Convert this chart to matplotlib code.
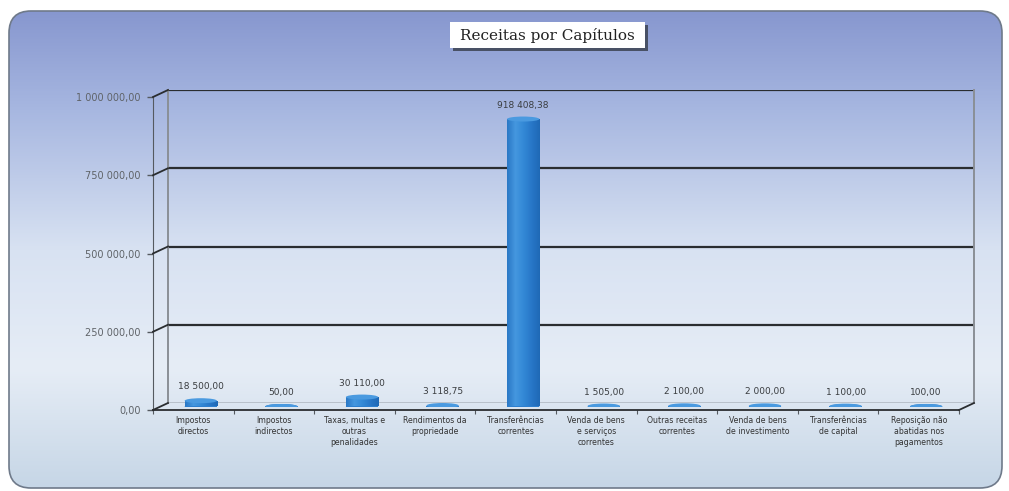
import numpy as np
import matplotlib.pyplot as plt
from matplotlib.patches import FancyBboxPatch, Ellipse, Rectangle
from matplotlib.lines import Line2D
from matplotlib.colors import LinearSegmentedColormap

# dados (Receitas por Capítulos)
categorias = [
    "Impostos\ndirectos",
    "Impostos\nindirectos",
    "Taxas, multas e\noutras\npenalidades",
    "Rendimentos da\npropriedade",
    "Transferências\ncorrentes",
    "Venda de bens\ne serviços\ncorrentes",
    "Outras receitas\ncorrentes",
    "Venda de bens\nde investimento",
    "Transferências\nde capital",
    "Reposição não\nabatidas nos\npagamentos",
]
valores = [18500.00, 50.00, 30110.00, 3118.75, 918408.38,
           1505.00, 2100.00, 2000.00, 1100.00, 100.00]
yticks = [0, 250000, 500000, 750000, 1000000]
titulo = "Receitas por Capítulos"


def fmt(v):
    s = f"{v:,.2f}"
    return s.replace(",", " ").replace(".", ",")


W, H = 1009, 491
fig = plt.figure(figsize=(W / 100, H / 100), dpi=100)
fig.patch.set_facecolor("white")


def px(x0, y0, x1, y1):
    return [x0 / W, 1 - y1 / H, (x1 - x0) / W, (y1 - y0) / H]


# fundo com gradiente e cantos arredondados
bg = fig.add_axes([0, 0, 1, 1])
bg.set_xlim(0, W)
bg.set_ylim(H, 0)
bg.axis("off")
cmap_bg = LinearSegmentedColormap.from_list(
    "bg", [(0, "#8797cf"), (0.2, "#a6b6e0"), (0.5, "#d8e2f2"),
           (0.75, "#e6edf6"), (1, "#c6d6e6")])
panel = FancyBboxPatch((9, 11), 993, 477, boxstyle="round,pad=0,rounding_size=22",
                       fc="none", ec="#6f7a8a", lw=1.2, zorder=2)
bg.add_patch(panel)
grad = np.linspace(0, 1, 256).reshape(-1, 1)
im = bg.imshow(grad, extent=(9, 1002, 488, 11), cmap=cmap_bg, aspect="auto", zorder=1)
im.set_clip_path(panel)
bg.set_xlim(0, W)
bg.set_ylim(H, 0)

# titulo com sombra
bg.add_patch(Rectangle((453, 25), 195, 26, fc="#3c4352", ec="none", alpha=0.85, zorder=3))
bg.add_patch(Rectangle((450, 22), 195, 26, fc="white", ec="none", zorder=4))
bg.text(547, 35.5, titulo, ha="center", va="center", fontsize=11,
        family="DejaVu Serif", color="#222222", zorder=5)

# parede de fundo
ax = fig.add_axes(px(168, 90, 974, 403))
ax.set_facecolor("none")
ax.set_xlim(-0.5, 9.5)
ax.set_ylim(0, 1000000)
ax.set_xticks([])
ax.set_yticks([])
for s in ["top", "bottom"]:
    ax.spines[s].set_visible(False)
for s in ["left", "right"]:
    ax.spines[s].set_color("#8a8f96")
    ax.spines[s].set_linewidth(1.4)
for v in yticks:
    ax.axhline(v, color="#2a2d30", lw=1.6 if v > 0 else 1.0)

# eixo da frente
axf = fig.add_axes(px(153, 97, 959, 410))
axf.set_facecolor("none")
axf.set_xlim(-0.5, 9.5)
axf.set_ylim(0, 1000000)
for s in ["top", "right"]:
    axf.spines[s].set_visible(False)
axf.spines["left"].set_color("#555a60")
axf.spines["bottom"].set_color("#2a2d30")
axf.spines["bottom"].set_linewidth(1.3)
axf.set_yticks(yticks, [fmt(v) for v in yticks])
axf.tick_params(axis="y", length=4, width=1, color="#555a60", pad=5,
                labelsize=7, labelcolor="#5f6368")
axf.set_xticks(range(len(categorias)), categorias)
axf.tick_params(axis="x", length=0, pad=4, labelsize=5.6, labelcolor="#333333")
for lab in axf.get_xticklabels():
    lab.set_linespacing(1.35)
    lab.set_va("top")
axf.set_xticks(np.arange(-0.5, 10, 1), minor=True)
axf.tick_params(axis="x", which="minor", length=3, width=0.8, color="#555a60")

# ligacoes 3D entre frente e fundo
inv = fig.transFigure.inverted()
pares = [(-0.5, v) for v in yticks] + [(9.5, 0)]
for xv, yv in pares:
    p1 = inv.transform(axf.transData.transform((xv, yv)))
    p2 = inv.transform(ax.transData.transform((xv, yv)))
    fig.add_artist(Line2D([p1[0], p2[0]], [p1[1], p2[1]], transform=fig.transFigure,
                          color="#2a2d30", lw=1.3))

# barras (cilindros) a meia profundidade
axm = fig.add_axes(px(160.5, 93.5, 966.5, 406.5))
axm.set_facecolor("none")
axm.axis("off")
x = np.arange(len(valores))
larg = 0.4
barras = axm.bar(x, valores, width=larg, color="#2d7fcf", edgecolor="none", zorder=3)
cmap_bar = LinearSegmentedColormap.from_list(
    "cil", ["#2a78c6", "#4597df", "#3389d6", "#2877c8", "#1f69b6"])
ell_h = 5 * 1000000 / 313
for b, xi, v in zip(barras, x, valores):
    g = axm.imshow(np.linspace(0, 1, 64).reshape(1, -1), cmap=cmap_bar,
                   extent=(xi - larg / 2, xi + larg / 2, 0, max(v, 1)),
                   aspect="auto", zorder=3)
    g.set_clip_path(b)
    axm.add_patch(Ellipse((xi, 0), larg, ell_h, fc="#2a78c6", ec="none", zorder=2))
    axm.add_patch(Ellipse((xi, v), larg, ell_h, fc="#4a9ae0", ec="none", zorder=4))
    axm.annotate(fmt(v), (xi, v), xytext=(0, 10), textcoords="offset points",
                 ha="center", va="center", fontsize=6.5, color="#3a3d40")
axm.set_xlim(-0.5, 9.5)
axm.set_ylim(0, 1000000)

fig.savefig("out.png", dpi=100)
